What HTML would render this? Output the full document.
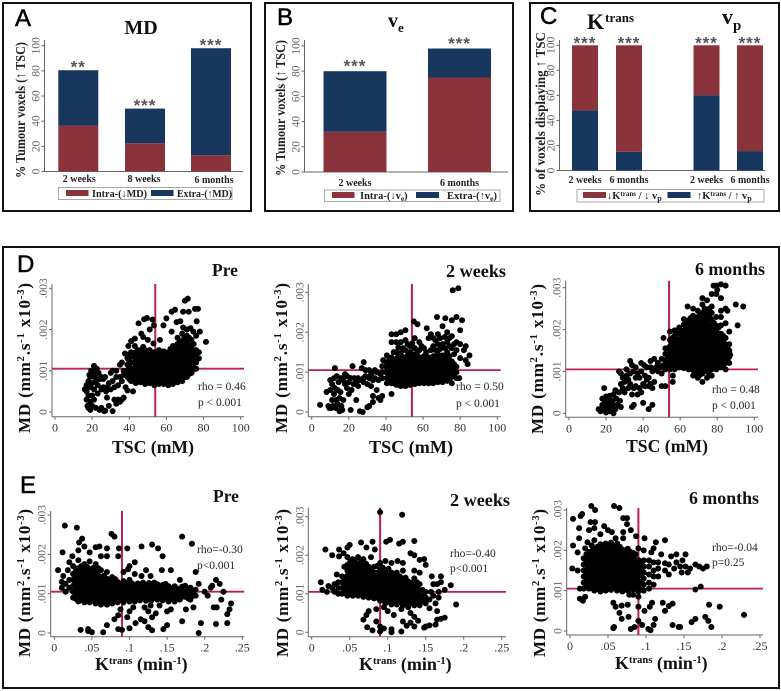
<!DOCTYPE html>
<html lang="en">
<head>
<meta charset="utf-8">
<title>Tumour voxel bar charts and MD scatter plots</title>
<style>
html,body{margin:0;padding:0;background:#fff;width:781px;height:691px;overflow:hidden}
svg{display:block;filter:blur(.35px)}
text{font-family:"Liberation Serif",serif}
.b{font-weight:bold;fill:#111}
.letter{font-family:"Liberation Sans",sans-serif;font-size:24px;fill:#000;stroke:#000;stroke-width:.5}
.ann{font-size:11.5px;fill:#222}
.leg{font-size:10.5px;font-weight:bold;fill:#222}
.cat{font-size:10.5px;font-weight:bold;fill:#222}
.star{font-family:"Liberation Sans",sans-serif;font-size:17px;font-weight:bold;fill:#555}
.ptitle{font-size:17.5px;font-weight:bold;fill:#111}
.ytitle{font-size:17px;font-weight:bold;fill:#111}
.xtitle{font-size:18px;font-weight:bold;fill:#111}
.bary{font-size:14px;font-weight:bold;fill:#222}
</style>
</head>
<body>
<svg id="figure" xmlns="http://www.w3.org/2000/svg" width="781" height="691" viewBox="0 0 781 691">
<rect width="781" height="691" fill="#fff"/>
<rect x="3" y="3" width="248" height="208" fill="none" stroke="#111" stroke-width="2"/>
<rect x="265" y="3" width="248" height="208" fill="none" stroke="#111" stroke-width="2"/>
<rect x="530" y="3" width="249" height="208" fill="none" stroke="#111" stroke-width="2"/>
<rect x="3" y="247" width="776" height="441" fill="none" stroke="#111" stroke-width="2"/>

<text class="letter" x="15" y="26">A</text>
<text class="letter" x="277" y="25">B</text>
<text class="letter" x="540" y="24">C</text>
<text class="letter" x="17" y="272">D</text>
<text class="letter" x="20" y="493">E</text>

<text class="b" x="141" y="34" text-anchor="middle" font-size="20">MD</text>
<text class="b" x="388" y="27" font-size="20">v<tspan font-size="13" dy="5">e</tspan></text>
<text class="b" x="587" y="29" font-size="22">K<tspan font-size="13" dy="-7" dx="1">trans</tspan></text>
<text class="b" x="722" y="24" font-size="22">v<tspan font-size="15" dy="6">p</tspan></text>

<text class="bary" transform="translate(25,178) rotate(-90)" textLength="136" lengthAdjust="spacingAndGlyphs">% Tumour voxels (↑ TSC)</text>
<text class="bary" transform="translate(285,176) rotate(-90)" textLength="136" lengthAdjust="spacingAndGlyphs">% Tumour voxels (↑ TSC)</text>
<text class="bary" transform="translate(545,196) rotate(-90)" textLength="164" lengthAdjust="spacingAndGlyphs">% of voxels displaying ↑ TSC</text>

<g>
<rect x="58.5" y="187.5" width="173.5" height="12" fill="#fff" stroke="#aaa"/>
<rect x="66" y="190" width="22.5" height="6" fill="#8a333a"/>
<text class="leg" x="92" y="197" textLength="55" lengthAdjust="spacingAndGlyphs">Intra-(↓MD)</text>
<rect x="151" y="190" width="22.5" height="6" fill="#17375e"/>
<text class="leg" x="177" y="197" textLength="55" lengthAdjust="spacingAndGlyphs">Extra-(↑MD)</text>
</g>
<g>
<rect x="324.5" y="190" width="175.5" height="11.5" fill="#fff" stroke="#aaa"/>
<rect x="332" y="192" width="22.5" height="6" fill="#8a333a"/>
<text class="leg" x="360" y="199">Intra-(↓v<tspan font-size="7.5" dy="2">e</tspan><tspan dy="-2">)</tspan></text>
<rect x="416" y="192" width="23" height="6" fill="#17375e"/>
<text class="leg" x="447" y="199">Extra-(↑v<tspan font-size="7.5" dy="2">e</tspan><tspan dy="-2">)</tspan></text>
</g>
<g>
<rect x="577" y="189.5" width="187" height="12.5" fill="#fff" stroke="#aaa"/>
<rect x="583" y="192" width="23" height="6" fill="#8a333a"/>
<text class="leg" x="607" y="199">↓K<tspan font-size="7" dy="-3">trans</tspan><tspan dy="3"> / ↓ v</tspan><tspan font-size="8" dy="2">p</tspan></text>
<rect x="667.5" y="192" width="23" height="6" fill="#17375e"/>
<text class="leg" x="697" y="199">↑K<tspan font-size="7" dy="-3">trans</tspan><tspan dy="3"> / ↑ v</tspan><tspan font-size="8" dy="2">p</tspan></text>
</g>

<text class="ptitle" x="212" y="276">Pre</text>
<text class="ptitle" x="446" y="277" textLength="60" lengthAdjust="spacingAndGlyphs">2 weeks</text>
<text class="ptitle" x="695" y="275" textLength="70" lengthAdjust="spacingAndGlyphs">6 months</text>
<text class="ptitle" x="213" y="502">Pre</text>
<text class="ptitle" x="450" y="506" textLength="60" lengthAdjust="spacingAndGlyphs">2 weeks</text>
<text class="ptitle" x="689" y="504" textLength="70" lengthAdjust="spacingAndGlyphs">6 months</text>

<text class="ytitle" transform="translate(30,433) rotate(-90)" textLength="150">MD (mm<tspan font-size="10.5" dy="-6">2</tspan><tspan dy="6">.s</tspan><tspan font-size="10.5" dy="-6">-1</tspan><tspan dy="6"> x10</tspan><tspan font-size="10.5" dy="-6">-3</tspan><tspan dy="6">)</tspan></text>
<text class="ytitle" transform="translate(287,433) rotate(-90)" textLength="150">MD (mm<tspan font-size="10.5" dy="-6">2</tspan><tspan dy="6">.s</tspan><tspan font-size="10.5" dy="-6">-1</tspan><tspan dy="6"> x10</tspan><tspan font-size="10.5" dy="-6">-3</tspan><tspan dy="6">)</tspan></text>
<text class="ytitle" transform="translate(543,434) rotate(-90)" textLength="150">MD (mm<tspan font-size="10.5" dy="-6">2</tspan><tspan dy="6">.s</tspan><tspan font-size="10.5" dy="-6">-1</tspan><tspan dy="6"> x10</tspan><tspan font-size="10.5" dy="-6">-3</tspan><tspan dy="6">)</tspan></text>
<text class="ytitle" transform="translate(30,657) rotate(-90)" textLength="148">MD (mm<tspan font-size="10.5" dy="-6">2</tspan><tspan dy="6">.s</tspan><tspan font-size="10.5" dy="-6">-1</tspan><tspan dy="6"> x10</tspan><tspan font-size="10.5" dy="-6">-3</tspan><tspan dy="6">)</tspan></text>
<text class="ytitle" transform="translate(288,657) rotate(-90)" textLength="148">MD (mm<tspan font-size="10.5" dy="-6">2</tspan><tspan dy="6">.s</tspan><tspan font-size="10.5" dy="-6">-1</tspan><tspan dy="6"> x10</tspan><tspan font-size="10.5" dy="-6">-3</tspan><tspan dy="6">)</tspan></text>
<text class="ytitle" transform="translate(545,657) rotate(-90)" textLength="148">MD (mm<tspan font-size="10.5" dy="-6">2</tspan><tspan dy="6">.s</tspan><tspan font-size="10.5" dy="-6">-1</tspan><tspan dy="6"> x10</tspan><tspan font-size="10.5" dy="-6">-3</tspan><tspan dy="6">)</tspan></text>

<text class="xtitle" x="112" y="453" textLength="82" lengthAdjust="spacingAndGlyphs">TSC (mM)</text>
<text class="xtitle" x="369" y="453" textLength="84" lengthAdjust="spacingAndGlyphs">TSC (mM)</text>
<text class="xtitle" x="626" y="452" textLength="82" lengthAdjust="spacingAndGlyphs">TSC (mM)</text>
<text class="xtitle" x="95" y="670">K<tspan font-size="10.5" dy="-6">trans</tspan><tspan dy="6"> (min</tspan><tspan font-size="10.5" dy="-6">-1</tspan><tspan dy="6">)</tspan></text>
<text class="xtitle" x="359" y="670">K<tspan font-size="10.5" dy="-6">trans</tspan><tspan dy="6"> (min</tspan><tspan font-size="10.5" dy="-6">-1</tspan><tspan dy="6">)</tspan></text>
<text class="xtitle" x="615" y="669">K<tspan font-size="10.5" dy="-6">trans</tspan><tspan dy="6"> (min</tspan><tspan font-size="10.5" dy="-6">-1</tspan><tspan dy="6">)</tspan></text>

<g id="scatterLayer"></g>
<g id="barLayer"></g>

<g>
<text class="ann" x="198" y="390">rho = 0.46</text>
<text class="ann" x="198" y="406">p &lt; 0.001</text>
<text class="ann" x="456" y="390">rho = 0.50</text>
<text class="ann" x="456" y="407">p &lt; 0.001</text>
<text class="ann" x="712" y="393">rho = 0.48</text>
<text class="ann" x="712" y="409">p &lt; 0.001</text>
<text class="ann" x="197" y="553">rho=-0.30</text>
<text class="ann" x="197" y="569">p&lt;0.001</text>
<text class="ann" x="450" y="557">rho=-0.40</text>
<text class="ann" x="450" y="572">p&lt;0.001</text>
<text class="ann" x="712" y="551">rho=-0.04</text>
<text class="ann" x="712" y="566">p=0.25</text>
</g>
</svg>

<script>
// ---- bar chart data ----
const barTicks = [0, 20, 40, 60, 80, 100];
const aCategories = ['2 weeks', '8 weeks', '6 months'];
const aIntra = [36.5, 22.5, 13];
const aExtra = [44, 27.5, 85];
const aStars = ['**', '***', '***'];
const bCategories = ['2 weeks', '6 months'];
const bIntra = [32, 75];
const bExtra = [48, 23];
const bStars = ['***', '***'];
const cCategories = ['2 weeks', '6 months', '2 weeks', '6 months'];
const cIncrease = [48, 15, 60, 15.5];
const cDecrease = [52, 85, 40, 84.5];
const cStars = ['***', '***', '***', '***'];

// ---- scatter axis data ----
const tscTicks = [0, 20, 40, 60, 80, 100];
const ktransTicks = [0, .05, .1, .15, .2, .25];
const ktransTickLabels = ['0', '.05', '.1', '.15', '.2', '.25'];
const mdTicks = [0, 1, 2, 3];
const mdTickLabels = ['0', '.001', '.002', '.003'];
const tscThreshold = 54;
const mdThreshold = 1.05;
const ktransThreshold = .09;

// ---- scatter points: [x, MD in units of 10^-3] ----
const dPrePoints = [[16,.55],[17,.3],[17,.5],[17,.65],[17.5,.15],[18,.1],[18,.4],[18,.75],[18.5,.9],[19,.05],[19,.25],[19,.6],[19,.85],[19.5,1],[20,.15],[20,.4],[20,.7],[20.5,.95],[21,1.12],[21,.55],[21,.3],[21.5,.85],[22,.1],[22,.75],[22.5,1.05],[23,.45],[23,.65],[23.5,.95],[24,.05],[24,.8],[25,.85],[25,.55],[25,.1],[26,.6],[26,.8],[26.5,.02],[27,.03],[27,.85],[27.5,.5],[28,.35],[28,.6],[29,.15],[29,.7],[30,.55],[30,.95],[31,.02],[31,.75],[31,1],[32,.3],[32,.6],[33,.85],[33,.2],[33,1],[34,.3],[34,.65],[35,.25],[35,.85],[35,1.15],[36,.3],[36,.75],[36,1.2],[37,.35],[37,1],[37,.9],[39,.85],[39,1],[39,1.15],[39,1.3],[41,.75],[41,.9],[41,1.05],[41,1.2],[41,1.35],[41,1.45],[43.5,.7],[43.5,.85],[43.5,1],[43.5,1.15],[43.5,1.3],[43.5,1.45],[46,.72],[46,.85],[46,.98],[46,1.1],[46,1.25],[46,1.38],[46,1.5],[48.5,.68],[48.5,.82],[48.5,.95],[48.5,1.08],[48.5,1.22],[48.5,1.35],[48.5,1.5],[51,.7],[51,.83],[51,.96],[51,1.1],[51,1.23],[51,1.37],[51,1.5],[53.5,.65],[53.5,.8],[53.5,.93],[53.5,1.05],[53.5,1.2],[53.5,1.33],[53.5,1.45],[56,.68],[56,.82],[56,.95],[56,1.08],[56,1.22],[56,1.35],[56,1.5],[58.5,.68],[58.5,.8],[58.5,.94],[58.5,1.07],[58.5,1.2],[58.5,1.33],[58.5,1.47],[61,.65],[61,.78],[61,.92],[61,1.05],[61,1.18],[61,1.32],[61,1.45],[63.5,.68],[63.5,.82],[63.5,.95],[63.5,1.08],[63.5,1.22],[63.5,1.35],[63.5,1.5],[63.5,1.6],[66,.72],[66,.85],[66,.98],[66,1.12],[66,1.25],[66,1.38],[66,1.5],[66,1.65],[66,1.8],[68.5,.75],[68.5,.9],[68.5,1.03],[68.5,1.17],[68.5,1.3],[68.5,1.45],[68.5,1.58],[68.5,1.72],[68.5,1.9],[71,.85],[71,1],[71,1.15],[71,1.28],[71,1.42],[71,1.55],[71,1.7],[71,1.85],[71,2],[73.5,.95],[73.5,1.1],[73.5,1.25],[73.5,1.4],[73.5,1.55],[73.5,1.75],[76,1.05],[76,1.2],[76,1.35],[76,1.5],[76,1.85],[77.5,1.3],[77.5,1.45],[48,2.25],[49.5,2.28],[45,2.15],[52.5,2.24],[53.3,2.1],[51,2],[47.5,1.82],[43,1.78],[41,1.72],[39.5,1.6],[37.7,1.42],[58.4,2.1],[60,2.27],[62.8,2.43],[64.6,2.48],[69,2.43],[72,2.43],[70,2.7],[71.5,2.75],[75.4,2.5],[77,2.5],[81.3,1.7],[78,1.95],[76.3,2.2],[65.5,2.18],[62.8,1.95],[56.5,1.75],[53,1.66],[47.5,1.58],[43,1.6],[69,2.05],[73,2.03],[67.5,2.2],[74.5,1.95],[50,1.75],[46.5,1.9],[39,.52],[42,.5],[38,.6],
[40,.8],[40,.95],[40,1.1],[40,1.25],[40,1.4],[42.2,.8],[42.2,.92],[42.2,1.05],[42.2,1.2],[42.2,1.35],[44.7,.78],[44.7,.92],[44.7,1.05],[44.7,1.2],[44.7,1.35],[44.7,1.5],[47.2,.78],[47.2,.9],[47.2,1.03],[47.2,1.16],[47.2,1.3],[47.2,1.44],[49.7,.76],[49.7,.89],[49.7,1.02],[49.7,1.16],[49.7,1.3],[49.7,1.44],[52.2,.75],[52.2,.88],[52.2,1.02],[52.2,1.15],[52.2,1.28],[52.2,1.42],[54.7,.75],[54.7,.88],[54.7,1.02],[54.7,1.15],[54.7,1.28],[54.7,1.42],[57.2,.75],[57.2,.88],[57.2,1.02],[57.2,1.15],[57.2,1.28],[57.2,1.42],[59.7,.74],[59.7,.87],[59.7,1],[59.7,1.13],[59.7,1.27],[59.7,1.4],[62.2,.74],[62.2,.87],[62.2,1],[62.2,1.13],[62.2,1.27],[62.2,1.4],[62.2,1.53],[64.7,.76],[64.7,.89],[64.7,1.02],[64.7,1.15],[64.7,1.28],[64.7,1.42],[64.7,1.56],[67.2,.8],[67.2,.92],[67.2,1.05],[67.2,1.18],[67.2,1.32],[67.2,1.45],[67.2,1.58],[67.2,1.72],[69.7,.84],[69.7,.96],[69.7,1.1],[69.7,1.23],[69.7,1.36],[69.7,1.5],[69.7,1.64],[69.7,1.8],[72.2,.92],[72.2,1.05],[72.2,1.2],[72.2,1.34],[72.2,1.48],[72.2,1.62],[72.2,1.8],[74.7,1.03],[74.7,1.17],[74.7,1.32],[74.7,1.47],[74.7,1.65]];
const d2wPoints = [[4.5,.18],[8,.5],[9,.15],[9.5,.1],[10,.55],[10,.8],[10.5,.1],[11,.3],[11,.7],[11.5,.15],[12,.85],[12,.45],[12.5,1.1],[12.5,.6],[13,.3],[13,.1],[13.5,.9],[14,.55],[14,.2],[14.5,.75],[15,.02],[15,.35],[15.5,.5],[16,.15],[16,.85],[16.5,.05],[17,.8],[17,.3],[18,.95],[18,.7],[19,.9],[19,.6],[20,.75],[20,.45],[21,.85],[21,.05],[21.5,.55],[22,1.15],[22.5,.7],[23,.85],[24,.3],[24,.75],[25,.85],[25,.65],[26,.02],[26,.8],[27,1.1],[27.5,0],[28,.75],[28,.85],[28,1.25],[29,.9],[29,1.05],[30,.7],[30,.12],[31,.85],[31,1.05],[31,.15],[32,.65],[32,.95],[33,.8],[33,.4],[33,.25],[34,1.05],[34,.85],[35,.55],[35,1],[36,.35],[36,.8],[37,.3],[37,.95],[38,.4],[38,.85],[38,1],[38,1.15],[38.5,1.3],[40.5,.72],[40.5,.85],[40.5,.98],[40.5,1.11],[40.5,1.24],[40.5,1.42],[43,.72],[43,.85],[43,.98],[43,1.11],[43,1.24],[43,1.37],[43,.45],[43,1.95],[43,1.75],[45.5,.68],[45.5,.81],[45.5,.94],[45.5,1.07],[45.5,1.2],[45.5,1.33],[45.5,1.5],[45.5,1.75],[45.5,1.95],[48,.65],[48,.78],[48,.91],[48,1.04],[48,1.17],[48,1.3],[48,1.48],[48,1.75],[48,2],[50.5,.65],[50.5,.78],[50.5,.91],[50.5,1.04],[50.5,1.17],[50.5,1.3],[50.5,1.55],[50.5,1.8],[50.5,2.05],[53,.68],[53,.8],[53,.93],[53,1.06],[53,1.19],[53,1.32],[53,1.5],[53,1.65],[55.5,.7],[55.5,.83],[55.5,.96],[55.5,1.09],[55.5,1.22],[55.5,1.35],[55.5,1.6],[55.5,1.85],[55,2.27],[57,2.2],[58,.72],[58,.85],[58,.98],[58,1.11],[58,1.24],[58,1.37],[58,1.55],[58,1.75],[60.5,.72],[60.5,.85],[60.5,.98],[60.5,1.11],[60.5,1.24],[60.5,1.4],[60.5,1.6],[62,2.1],[63,.72],[63,.85],[63,.98],[63,1.11],[63,1.24],[63,1.37],[63,1.85],[65.5,.72],[65.5,.85],[65.5,.98],[65.5,1.11],[65.5,1.24],[65.5,1.4],[65.5,1.85],[65.5,1.65],[68,.75],[68,.88],[68,1.01],[68,1.14],[68,1.27],[68,1.45],[68,1.7],[68,1.95],[67.5,2.38],[70.5,.75],[70.5,.88],[70.5,1.01],[70.5,1.14],[70.5,1.27],[70.5,1.42],[70.5,1.7],[70.5,2.15],[72,2.35],[73,.78],[73,.91],[73,1.04],[73,1.17],[73,1.3],[73,1.5],[73,1.75],[73,2],[75.5,.72],[75.5,.88],[75.5,1.01],[75.5,1.14],[75.5,1.27],[75.5,1.6],[75.5,1.9],[75.5,2.3],[78,.85],[78,1],[78,1.13],[78,1.55],[78,1.75],[78,2.38],[79.5,.85],[80,1.35],[80,1.7],[80,2.05],[81,2.3],[82,1.55],[83,1.3],[84,1.2],[85,1.42],[83,1.65],[76,3.05],[79,3.1],
[41.7,.78],[41.7,.91],[41.7,1.04],[41.7,1.17],[41.7,1.3],[44.2,.78],[44.2,.91],[44.2,1.04],[44.2,1.17],[44.2,1.3],[44.2,1.5],[46.7,.74],[46.7,.87],[46.7,1],[46.7,1.13],[46.7,1.26],[46.7,1.42],[46.7,1.62],[49.2,.72],[49.2,.85],[49.2,.98],[49.2,1.11],[49.2,1.24],[49.2,1.38],[49.2,1.6],[51.7,.72],[51.7,.85],[51.7,.98],[51.7,1.11],[51.7,1.24],[51.7,1.42],[51.7,1.7],[54.2,.74],[54.2,.87],[54.2,1],[54.2,1.13],[54.2,1.26],[54.2,1.45],[54.2,1.72],[56.7,.77],[56.7,.9],[56.7,1.03],[56.7,1.16],[56.7,1.29],[56.7,1.48],[59.2,.78],[59.2,.91],[59.2,1.04],[59.2,1.17],[59.2,1.3],[59.2,1.65],[61.7,.78],[61.7,.91],[61.7,1.04],[61.7,1.17],[61.7,1.3],[61.7,1.5],[64.2,.78],[64.2,.91],[64.2,1.04],[64.2,1.17],[64.2,1.3],[64.2,1.55],[64.2,1.95],[66.7,.8],[66.7,.93],[66.7,1.06],[66.7,1.19],[66.7,1.32],[66.7,1.55],[66.7,1.8],[69.2,.81],[69.2,.94],[69.2,1.07],[69.2,1.2],[69.2,1.35],[69.2,1.58],[69.2,1.85],[71.7,.83],[71.7,.96],[71.7,1.09],[71.7,1.22],[71.7,1.38],[71.7,1.6],[71.7,1.88],[74.2,.82],[74.2,.95],[74.2,1.08],[74.2,1.21],[74.2,1.4],[74.2,1.65],[74.2,1.85],[76.7,.95],[76.7,1.07],[76.7,1.2],[76.7,1.45],[76.7,1.7]];
const d6mPoints = [[16,.1],[17,.05],[18,.2],[18,.35],[19,.6],[19,.1],[19.5,.28],[20,.02],[20,.4],[20.5,.2],[21,.12],[21.5,.3],[22,.05],[22,.42],[22.5,.2],[23,.12],[23.5,.3],[24,0],[24,.45],[24.5,.18],[25,.55],[25,.1],[25.5,.35],[26,.2],[27,.5],[27,1],[27.5,.3],[28,.7],[28,.95],[28,.15],[29,.6],[29,.85],[30,.75],[30,.5],[31,1.05],[31,.9],[32,.6],[32,.8],[33,.95],[33,.7],[33,1.25],[34,1.15],[34,.15],[34,.45],[35,.6],[35,1],[35,.2],[36,.85],[36,1.1],[36,.65],[37,.95],[37,.45],[38,.85],[38,.6],[39,1.2],[39,.5],[39,1],[40,.25],[40,.7],[40.5,1.15],[41,.9],[41,.65],[42,1.1],[42,.8],[43,.1],[43,.65],[43,.85],[44,1.25],[44,1.1],[44,.7],[45,.2],[45,1],[45,.6],[46,1.3],[46,.75],[47,1.1],[48,1],[48,1.2],[49,1.1],[50,1.3],[50,.95],[50,.65],[51,1.15],[52,.65],[52,1.05],[51,1.8],[53,1.3],[56,.75],[56,.9],[52,1.12],[52,1.27],[52,1.42],[52,1.55],[54.5,1.05],[54.5,1.2],[54.5,1.33],[54.5,1.47],[54.5,1.6],[54.5,1.75],[54.5,1.95],[57,1.05],[57,1.18],[57,1.3],[57,1.43],[57,1.56],[57,1.7],[57,1.85],[57,1.98],[59.5,1.1],[59.5,1.23],[59.5,1.36],[59.5,1.49],[59.5,1.62],[59.5,1.75],[59.5,1.9],[59.5,2.05],[62,1.08],[62,1.2],[62,1.33],[62,1.46],[62,1.59],[62,1.72],[62,1.85],[62,1.98],[62,2.12],[62,2.25],[64.5,1.05],[64.5,1.18],[64.5,1.31],[64.5,1.44],[64.5,1.57],[64.5,1.7],[64.5,1.83],[64.5,1.96],[64.5,2.09],[64.5,2.22],[64,2.55],[67,.9],[67,1.03],[67,1.16],[67,1.29],[67,1.42],[67,1.55],[67,1.68],[67,1.81],[67,1.94],[67,2.07],[67,2.2],[67,2.33],[67,2.5],[69.5,.85],[69.5,1],[69.5,1.13],[69.5,1.26],[69.5,1.39],[69.5,1.52],[69.5,1.65],[69.5,1.78],[69.5,1.91],[69.5,2.04],[69.5,2.17],[69.5,2.3],[69.5,2.45],[72,.75],[72,.95],[72,1.08],[72,1.21],[72,1.34],[72,1.47],[72,1.6],[72,1.73],[72,1.86],[72,1.99],[72,2.12],[72,2.25],[72,2.4],[72,2.6],[72,2.75],[74.5,.85],[74.5,1],[74.5,1.13],[74.5,1.26],[74.5,1.39],[74.5,1.52],[74.5,1.65],[74.5,1.78],[74.5,1.91],[74.5,2.04],[74.5,2.17],[74.5,2.3],[74.5,2.45],[74.5,2.7],[77,.9],[77,1.05],[77,1.18],[77,1.31],[77,1.44],[77,1.57],[77,1.7],[77,1.83],[77,1.96],[77,2.09],[77,2.25],[77,2.4],[77,2.55],[77,2.85],[79.5,1.05],[79.5,1.18],[79.5,1.31],[79.5,1.44],[79.5,1.57],[79.5,1.7],[79.5,1.83],[79.5,1.96],[79.5,2.09],[79.5,2.3],[79.5,2.85],[79.5,3.05],[82,1.1],[82,1.25],[82,1.38],[82,1.51],[82,1.64],[82,1.77],[82,1.9],[82,2.1],[82,2.3],[82,2.45],[82,2.75],[84.5,1.05],[84.5,1.2],[84.5,1.35],[84.5,1.5],[84.5,1.65],[84.5,1.8],[84.5,2.15],[84.5,2.5],[84.5,3.05],[86.5,1.2],[86.5,1.35],[86.5,1.5],[86.5,1.65],[86.5,1.95],[90,2.6],[94,2.55],[91,2.1],[82,3.08],[78,3.05],[80,2.95],[87,1.4],[85.5,2.45],
[53.2,1.15],[53.2,1.4],[53.2,1.55],[55.7,1.12],[55.7,1.25],[55.7,1.38],[55.7,1.51],[55.7,1.64],[55.7,1.8],[58.2,1.12],[58.2,1.25],[58.2,1.38],[58.2,1.51],[58.2,1.64],[58.2,1.77],[58.2,1.92],[60.7,1.15],[60.7,1.28],[60.7,1.41],[60.7,1.54],[60.7,1.67],[60.7,1.8],[60.7,1.95],[63.2,1.14],[63.2,1.27],[63.2,1.4],[63.2,1.53],[63.2,1.66],[63.2,1.79],[63.2,1.92],[63.2,2.05],[63.2,2.18],[65.7,1.1],[65.7,1.23],[65.7,1.36],[65.7,1.49],[65.7,1.62],[65.7,1.75],[65.7,1.88],[65.7,2.02],[65.7,2.15],[65.7,2.28],[68.2,.97],[68.2,1.1],[68.2,1.23],[68.2,1.36],[68.2,1.49],[68.2,1.62],[68.2,1.75],[68.2,1.88],[68.2,2.01],[68.2,2.14],[68.2,2.27],[70.7,.92],[70.7,1.07],[70.7,1.2],[70.7,1.33],[70.7,1.46],[70.7,1.59],[70.7,1.72],[70.7,1.85],[70.7,1.98],[70.7,2.11],[70.7,2.24],[70.7,2.37],[73.2,1.02],[73.2,1.15],[73.2,1.28],[73.2,1.41],[73.2,1.54],[73.2,1.67],[73.2,1.8],[73.2,1.93],[73.2,2.06],[73.2,2.19],[73.2,2.32],[73.2,2.5],[75.7,.93],[75.7,1.06],[75.7,1.19],[75.7,1.32],[75.7,1.45],[75.7,1.58],[75.7,1.71],[75.7,1.84],[75.7,1.97],[75.7,2.1],[75.7,2.23],[75.7,2.36],[75.7,2.5],[78.2,1.12],[78.2,1.25],[78.2,1.38],[78.2,1.51],[78.2,1.64],[78.2,1.77],[78.2,1.9],[78.2,2.03],[78.2,2.16],[80.7,1.12],[80.7,1.25],[80.7,1.38],[80.7,1.51],[80.7,1.64],[80.7,1.77],[80.7,1.9],[80.7,2.05],[83.2,1.15],[83.2,1.3],[83.2,1.45],[83.2,1.58],[83.2,1.72],[83.2,1.85],[85.5,1.28],[85.5,1.43],[85.5,1.58]];
const ePrePoints = [[.005,1.6],[.01,1.3],[.01,1.15],[.012,1.45],[.015,1.25],[.015,1.05],[.018,1.6],[.02,1.35],[.02,1.15],[.011,2.05],[.014,2.73],[.03,2.68],[.02,1.8],[.024,1.95],[.025,.9],[.025,1.05],[.025,1.2],[.025,1.35],[.025,1.5],[.025,1.7],[.032,.8],[.032,.95],[.032,1.08],[.032,1.22],[.032,1.36],[.032,1.5],[.032,1.65],[.032,1.85],[.032,2.1],[.033,2.3],[.04,.78],[.04,.92],[.04,1.05],[.04,1.18],[.04,1.32],[.04,1.46],[.04,1.6],[.04,1.75],[.037,2.4],[.04,2.2],[.047,.78],[.047,.9],[.047,1.03],[.047,1.16],[.047,1.3],[.047,1.43],[.047,1.6],[.047,1.82],[.047,2.05],[.055,.75],[.055,.88],[.055,1.01],[.055,1.14],[.055,1.27],[.055,1.4],[.055,1.55],[.055,1.75],[.055,2.18],[.062,.72],[.062,.86],[.062,.99],[.062,1.12],[.062,1.25],[.062,1.4],[.062,1.6],[.062,1.95],[.06,2.2],[.07,.72],[.07,.85],[.07,.98],[.07,1.11],[.07,1.24],[.07,1.38],[.07,1.55],[.07,2.15],[.07,1.95],[.077,.75],[.077,.88],[.077,1.01],[.077,1.14],[.077,1.27],[.077,1.42],[.076,2.52],[.08,2.45],[.084,.78],[.084,.91],[.084,1.04],[.084,1.17],[.084,1.3],[.085,1.95],[.086,2.15],[.092,.78],[.092,.91],[.092,1.04],[.092,1.17],[.092,1.32],[.092,1.55],[.098,1.62],[.1,.8],[.1,.93],[.1,1.06],[.1,1.19],[.1,1.35],[.1,1.7],[.097,2.15],[.107,.8],[.107,.93],[.107,1.06],[.107,1.19],[.107,1.8],[.107,1.5],[.114,.83],[.114,.96],[.114,1.09],[.114,1.22],[.116,1.45],[.116,2.2],[.122,.82],[.122,.95],[.122,1.08],[.122,1.2],[.122,1.6],[.129,.83],[.129,.96],[.129,1.09],[.129,1.22],[.13,2.25],[.128,1.45],[.137,.85],[.137,.98],[.137,1.11],[.137,1.24],[.138,2.15],[.144,.83],[.144,.96],[.144,1.09],[.144,1.22],[.143,1.6],[.144,1.95],[.152,.8],[.152,.93],[.152,1.06],[.152,1.19],[.155,1.6],[.16,.8],[.16,.93],[.16,1.06],[.16,1.19],[.167,.85],[.167,.98],[.167,1.12],[.167,1.35],[.17,2.45],[.174,.92],[.174,1.05],[.174,1.2],[.181,.85],[.181,1],[.181,1.15],[.183,2.27],[.188,.95],[.188,1.1],[.188,1.55],[.192,1.25],[.2,1.05],[.204,.95],[.208,1.15],[.21,1.2],[.215,1.35],[.22,1.25],[.225,1.05],[.222,.85],[.235,.75],[.233,.6],[.23,.48],[.212,.65],[.216,.65],[.195,.25],[.192,0],[.23,.25],[.215,.23],[.17,.3],[.185,.65],[.175,.6],[.155,.6],[.15,.55],[.14,.7],[.135,.5],[.13,.4],[.125,.55],[.12,.3],[.115,.35],[.125,.15],[.13,.07],[.145,.1],[.15,.2],[.1,.12],[.108,.25],[.09,.08],[.085,.1],[.08,.35],[.085,.45],[.07,.2],[.065,.02],[.05,.02],[.045,.1],[.035,.08],[.045,.05],[.1,.55],[.105,.65],[.12,.65],[.128,.7],[.088,.6],[.097,.4],
[.0285,.87],[.0285,1],[.0285,1.13],[.0285,1.28],[.0285,1.42],[.0285,1.58],[.036,.85],[.036,.98],[.036,1.12],[.036,1.25],[.036,1.4],[.036,1.55],[.036,1.7],[.0435,.84],[.0435,.97],[.0435,1.1],[.0435,1.24],[.0435,1.38],[.0435,1.52],[.0435,1.68],[.051,.82],[.051,.96],[.051,1.09],[.051,1.22],[.051,1.35],[.051,1.5],[.051,1.65],[.0585,.8],[.0585,.94],[.0585,1.07],[.0585,1.2],[.0585,1.33],[.0585,1.47],[.0585,1.65],[.066,.78],[.066,.92],[.066,1.05],[.066,1.18],[.066,1.32],[.066,1.46],[.0735,.78],[.0735,.92],[.0735,1.05],[.0735,1.18],[.0735,1.32],[.081,.84],[.081,.97],[.081,1.1],[.081,1.23],[.081,1.37],[.088,.85],[.088,.98],[.088,1.11],[.088,1.24],[.096,.85],[.096,.98],[.096,1.11],[.096,1.25],[.1035,.87],[.1035,1],[.1035,1.13],[.1035,1.26],[.111,.87],[.111,1],[.111,1.13],[.111,1.26],[.118,.9],[.118,1.02],[.118,1.15],[.118,1.28],[.126,.9],[.126,1.02],[.126,1.15],[.126,1.27],[.133,.9],[.133,1.04],[.133,1.17],[.133,1.28],[.14,.9],[.14,1.03],[.14,1.16],[.148,.87],[.148,1],[.148,1.13],[.148,1.25],[.156,.87],[.156,1],[.156,1.13],[.163,.88],[.163,1],[.163,1.13],[.17,.92],[.17,1.05],[.17,1.18],[.178,.88],[.178,1],[.178,1.12],[.185,.95],[.185,1.08]];
const e2wPoints = [[.012,1.3],[.014,1.1],[.018,2.15],[.02,1.05],[.022,1.2],[.027,1.15],[.027,2],[.03,1.05],[.03,1.25],[.033,1.5],[.035,1],[.035,1.15],[.035,1.3],[.036,1.97],[.036,2.15],[.04,1],[.04,1.15],[.04,1.3],[.04,1.45],[.042,2.05],[.043,1.7],[.047,.95],[.047,1.08],[.047,1.21],[.047,1.34],[.047,1.47],[.047,1.6],[.047,1.75],[.047,1.95],[.047,2.2],[.05,2.27],[.054,.95],[.054,1.08],[.054,1.21],[.054,1.34],[.054,1.47],[.054,1.6],[.054,1.75],[.054,1.9],[.061,.95],[.061,1.08],[.061,1.21],[.061,1.34],[.061,1.47],[.061,1.6],[.061,1.75],[.061,1.95],[.065,2.33],[.068,.92],[.068,1.05],[.068,1.18],[.068,1.31],[.068,1.44],[.068,1.57],[.068,1.7],[.068,1.9],[.072,2.2],[.075,.9],[.075,1.03],[.075,1.16],[.075,1.29],[.075,1.42],[.075,1.55],[.075,1.7],[.078,1.95],[.08,2.35],[.082,.88],[.082,1.01],[.082,1.14],[.082,1.27],[.082,1.4],[.082,1.55],[.082,1.7],[.083,2.15],[.09,.82],[.09,.95],[.09,1.08],[.09,1.21],[.09,1.34],[.09,1.47],[.09,1.6],[.09,1.8],[.09,3.12],[.097,.75],[.097,.88],[.097,1.01],[.097,1.14],[.097,1.27],[.097,1.4],[.097,1.55],[.097,1.85],[.098,2.35],[.103,2.4],[.105,.72],[.105,.85],[.105,.98],[.105,1.11],[.105,1.24],[.105,1.37],[.105,1.55],[.105,1.8],[.112,.72],[.112,.85],[.112,.98],[.112,1.11],[.112,1.24],[.112,1.37],[.112,1.55],[.113,1.85],[.115,2.3],[.12,.7],[.12,.83],[.12,.96],[.12,1.09],[.12,1.22],[.12,1.35],[.12,1.6],[.12,1.8],[.119,3.05],[.12,2.35],[.127,.65],[.127,.8],[.127,.93],[.127,1.06],[.127,1.19],[.127,1.32],[.135,.7],[.135,.83],[.135,.96],[.135,1.09],[.135,1.22],[.135,1.4],[.135,1.6],[.135,2],[.135,2.37],[.13,2.05],[.142,.7],[.142,.83],[.142,.96],[.142,1.09],[.142,1.25],[.142,1.55],[.142,1.88],[.15,.75],[.15,.9],[.15,1.05],[.15,1.75],[.148,1.9],[.155,.62],[.155,.85],[.157,1.05],[.16,.95],[.16,1.25],[.158,1.45],[.163,.75],[.165,.55],[.167,.9],[.167,1.05],[.17,1.3],[.17,1.45],[.165,1.25],[.175,1.1],[.183,1.22],[.19,.72],[.175,.38],[.165,.33],[.17,.35],[.163,.2],[.155,.18],[.15,.15],[.148,.12],[.135,.15],[.14,.3],[.135,.4],[.13,.25],[.125,.17],[.12,.28],[.118,.02],[.108,.45],[.105,.08],[.105,0],[.095,.1],[.09,.15],[.09,.02],[.08,.05],[.085,.28],[.073,.13],[.068,.33],[.072,.45],[.075,.55],[.095,.65],[.085,.6],[.1,.55],[.118,.6],[.13,.5],
[.0435,1.02],[.0435,1.15],[.0435,1.28],[.0435,1.42],[.0505,1.02],[.0505,1.15],[.0505,1.28],[.0505,1.41],[.0505,1.54],[.0505,1.67],[.0505,1.82],[.0575,1.02],[.0575,1.15],[.0575,1.28],[.0575,1.41],[.0575,1.54],[.0575,1.67],[.0575,1.82],[.0645,1],[.0645,1.13],[.0645,1.26],[.0645,1.39],[.0645,1.52],[.0645,1.65],[.0645,1.82],[.0715,.98],[.0715,1.11],[.0715,1.24],[.0715,1.37],[.0715,1.5],[.0715,1.63],[.0715,1.78],[.0785,.96],[.0785,1.09],[.0785,1.22],[.0785,1.35],[.0785,1.48],[.0785,1.62],[.086,.9],[.086,1.03],[.086,1.16],[.086,1.29],[.086,1.42],[.086,1.55],[.086,1.72],[.0935,.85],[.0935,.98],[.0935,1.11],[.0935,1.24],[.0935,1.37],[.0935,1.5],[.0935,1.68],[.101,.8],[.101,.93],[.101,1.06],[.101,1.19],[.101,1.32],[.101,1.46],[.101,1.65],[.1085,.78],[.1085,.91],[.1085,1.04],[.1085,1.17],[.1085,1.3],[.1085,1.45],[.116,.78],[.116,.91],[.116,1.04],[.116,1.17],[.116,1.3],[.116,1.45],[.1235,.75],[.1235,.88],[.1235,1.01],[.1235,1.14],[.1235,1.27],[.1235,1.42],[.131,.76],[.131,.89],[.131,1.02],[.131,1.15],[.131,1.28],[.1385,.76],[.1385,.89],[.1385,1.02],[.1385,1.15],[.1385,1.3],[.146,.8],[.146,.95],[.146,1.1]];
const e6mPoints = [[.003,1.55],[.004,2.12],[.004,2.78],[.01,1.5],[.01,1.95],[.012,2.55],[.012,2.3],[.014,2.85],[.016,2.9],[.013,.8],[.017,.75],[.013,1.05],[.018,1.05],[.018,1.2],[.018,1.35],[.018,1.5],[.018,1.65],[.018,1.8],[.02,.85],[.02,2.05],[.023,2.2],[.025,1.05],[.025,1.18],[.025,1.31],[.025,1.44],[.025,1.57],[.025,1.7],[.025,1.83],[.025,1.96],[.025,2.5],[.027,2.7],[.028,3.1],[.032,1],[.032,1.13],[.032,1.26],[.032,1.39],[.032,1.52],[.032,1.65],[.032,1.78],[.032,1.91],[.032,2.04],[.032,2.25],[.032,2.55],[.033,2.7],[.033,3],[.04,.98],[.04,1.11],[.04,1.24],[.04,1.37],[.04,1.5],[.04,1.63],[.04,1.76],[.04,1.89],[.04,2.02],[.04,2.15],[.04,2.4],[.047,1],[.047,1.13],[.047,1.26],[.047,1.39],[.047,1.52],[.047,1.65],[.047,1.78],[.047,1.91],[.047,2.04],[.047,2.17],[.045,2.6],[.05,2.5],[.054,1.02],[.054,1.15],[.054,1.28],[.054,1.41],[.054,1.54],[.054,1.67],[.054,1.8],[.054,1.93],[.054,2.06],[.054,2.19],[.055,2.45],[.058,3.1],[.06,2.3],[.062,1],[.062,1.13],[.062,1.26],[.062,1.39],[.062,1.52],[.062,1.65],[.062,1.78],[.062,1.91],[.062,2.04],[.062,2.17],[.065,3.05],[.069,.98],[.069,1.11],[.069,1.24],[.069,1.37],[.069,1.5],[.069,1.63],[.069,1.76],[.069,1.89],[.069,2.02],[.07,2.3],[.07,2.45],[.07,2.8],[.075,2.8],[.075,2.65],[.076,1],[.076,1.13],[.076,1.26],[.076,1.39],[.076,1.52],[.076,1.65],[.076,1.78],[.076,1.91],[.076,2.04],[.08,2.5],[.083,.9],[.083,1.03],[.083,1.16],[.083,1.29],[.083,1.42],[.083,1.55],[.083,1.68],[.083,1.81],[.083,1.94],[.087,2.35],[.09,.85],[.09,.98],[.09,1.11],[.09,1.24],[.09,1.37],[.09,1.5],[.09,1.63],[.09,1.76],[.09,2.05],[.097,1],[.097,1.15],[.097,1.3],[.097,1.45],[.097,1.6],[.097,1.75],[.097,2],[.098,2.3],[.104,1.05],[.104,1.2],[.104,1.4],[.104,1.6],[.104,1.75],[.107,1.95],[.11,1.15],[.11,1.35],[.11,1.5],[.11,1.7],[.11,2.05],[.113,2.2],[.116,1.35],[.116,1.55],[.116,1.7],[.12,1.9],[.125,1.5],[.125,1.68],[.125,2.25],[.13,1.65],[.13,1.4],[.133,1.85],[.137,1.55],[.14,1.7],[.14,1.9],[.145,1.6],[.147,1.45],[.148,1.75],[.152,1.9],[.152,1.6],[.155,1.45],[.158,1.55],[.165,1.65],[.17,1.6],[.175,1.55],[.18,1.6],[.165,1.03],[.172,1.1],[.183,.65],[.197,.6],[.229,.4],[.178,.35],[.182,.25],[.186,.1],[.165,.3],[.16,.22],[.145,.1],[.143,.1],[.135,.15],[.112,.3],[.11,.15],[.106,.02],[.103,.05],[.095,.15],[.09,.25],[.085,.1],[.08,.05],[.058,.1],[.057,.07],[.068,.3],[.065,.45],[.06,.6],[.057,.7],[.068,.63],[.077,.35],[.076,.65],[.078,.9],[.09,.6],[.098,.5],[.105,.6],[.108,.7],[.122,.7],[.125,.5],[.13,.62],[.135,.68],
[.0215,1.12],[.0215,1.25],[.0215,1.38],[.0215,1.51],[.0215,1.64],[.0215,1.77],[.0215,1.9],[.0285,1.07],[.0285,1.2],[.0285,1.33],[.0285,1.46],[.0285,1.59],[.0285,1.72],[.0285,1.85],[.0285,1.98],[.0285,2.12],[.036,1.05],[.036,1.18],[.036,1.31],[.036,1.44],[.036,1.57],[.036,1.7],[.036,1.83],[.036,1.96],[.036,2.09],[.0435,1.05],[.0435,1.18],[.0435,1.31],[.0435,1.44],[.0435,1.57],[.0435,1.7],[.0435,1.83],[.0435,1.96],[.0435,2.09],[.0505,1.07],[.0505,1.2],[.0505,1.33],[.0505,1.46],[.0505,1.59],[.0505,1.72],[.0505,1.85],[.0505,1.98],[.0505,2.12],[.058,1.07],[.058,1.2],[.058,1.33],[.058,1.46],[.058,1.59],[.058,1.72],[.058,1.85],[.058,1.98],[.058,2.12],[.0655,1.05],[.0655,1.18],[.0655,1.31],[.0655,1.44],[.0655,1.57],[.0655,1.7],[.0655,1.83],[.0655,1.96],[.0655,2.09],[.0725,1.05],[.0725,1.18],[.0725,1.31],[.0725,1.44],[.0725,1.57],[.0725,1.7],[.0725,1.83],[.0725,1.96],[.0795,1.05],[.0795,1.18],[.0795,1.31],[.0795,1.44],[.0795,1.57],[.0795,1.7],[.0795,1.83],[.0795,1.96],[.0865,1.1],[.0865,1.23],[.0865,1.36],[.0865,1.49],[.0865,1.62],[.0865,1.75],[.0865,1.9],[.094,1.08],[.094,1.22],[.094,1.38],[.094,1.52],[.094,1.68]];

// ---- layout ----
const svgNS = 'http://www.w3.org/2000/svg';
const barLayer = document.getElementById('barLayer');
const scatterLayer = document.getElementById('scatterLayer');
const NAVY = '#17375e', RED = '#8a333a', LINE = '#bf1f4d';

function make(tag, attrs, parent, text) {
  const node = document.createElementNS(svgNS, tag);
  for (const k in attrs) node.setAttribute(k, attrs[k]);
  if (text !== undefined) node.textContent = text;
  parent.appendChild(node);
  return node;
}

function drawAxisFrame(g, f) {
  let el = make('line', {x1: f.axisX, y1: f.top, x2: f.axisX, y2: f.axisY, stroke: '#666', 'stroke-width': 1}, g);
  
  
  el = make('line', {x1: f.axisX, y1: f.axisY, x2: f.right, y2: f.axisY, stroke: '#666', 'stroke-width': 1}, g);
  
  
}

function drawBarChart(name, f, categories, lower, upper, lowerColor, upperColor, stars) {
  const g = make('g', {}, barLayer);
  
  
  const yScale = v => f.y0 + (f.y100 - f.y0) * v / 100;
  drawAxisFrame(g, f);
  barTicks.forEach(t => {
    const y = yScale(t);
    let el = make('line', {x1: f.axisX - 3, y1: y, x2: f.axisX, y2: y, stroke: '#666'}, g);
    
    
    el = make('text', {transform: `translate(${f.axisX - 5},${y}) rotate(-90)`, 'text-anchor': 'middle', 'font-size': 11.5, fill: '#666'}, g, String(t));
    
    
  });
  categories.forEach((c, i) => {
    const cx = f.slots[i];
    const yLow = yScale(lower[i]);
    const yTop = yScale(lower[i] + upper[i]);
    let el = make('rect', {x: cx - f.barW / 2, y: yLow, width: f.barW, height: f.y0 - yLow, fill: lowerColor}, g);
    
    
    el = make('rect', {x: cx - f.barW / 2, y: yTop, width: f.barW, height: yLow - yTop, fill: upperColor}, g);
    
    
    el = make('text', {x: cx, y: yTop + f.starDy, 'text-anchor': 'middle', class: 'star', 'letter-spacing': '1'}, g, stars[i]);
    
    
    el = make('text', {x: cx + (f.catDx ? f.catDx[i] : 0), y: f.catY + (f.catDy ? f.catDy[i] : 0), 'text-anchor': 'middle', class: 'cat', textLength: c.includes('months') ? 39 : 33, lengthAdjust: 'spacingAndGlyphs'}, g, c);
    
    
  });
}

drawBarChart('panel-a-chart', {axisX: 44.5, top: 40, axisY: 171.5, right: 243, y0: 171.5, y100: 45.7, slots: [78.3, 145, 211], barW: 40, catY: 182, catDx: [1, -1, 3], catDy: [0, 0, 1], starDy: 2.5}, aCategories, aIntra, aExtra, RED, NAVY, aStars);
drawBarChart('panel-b-chart', {axisX: 304.5, top: 40, axisY: 172, right: 508, y0: 172, y100: 46, slots: [355, 459.5], barW: 63, catY: 186, starDy: .5}, bCategories, bIntra, bExtra, RED, NAVY, bStars);
drawBarChart('panel-c-chart', {axisX: 559.5, top: 40, axisY: 170.5, right: 765, y0: 170.5, y100: 45.3, slots: [585, 629, 706.5, 750], barW: 26, catY: 183, starDy: 3}, cCategories, cIncrease, cDecrease, NAVY, RED, cStars);

function drawScatter(name, f, points, xTicks, xLabels, xThreshold) {
  const g = make('g', {}, scatterLayer);
  
  
  const xMax = xTicks[xTicks.length - 1];
  const xScale = v => f.x0 + (f.xEnd - f.x0) * v / xMax;
  const yScale = v => f.y0 + (f.y3 - f.y0) * v / 3;
  drawAxisFrame(g, f);
  xTicks.forEach((t, i) => {
    const x = xScale(t);
    let el = make('line', {x1: x, y1: f.axisY, x2: x, y2: f.axisY + 3, stroke: '#666'}, g);
    
    
    el = make('text', {x: x, y: f.axisY + 15, 'text-anchor': 'middle', 'font-size': 12, fill: '#333'}, g, xLabels[i]);
    
    
  });
  mdTicks.forEach((t, i) => {
    const y = yScale(t);
    let el = make('line', {x1: f.axisX - 3, y1: y, x2: f.axisX, y2: y, stroke: '#666'}, g);
    
    
    el = make('text', {transform: `translate(${f.axisX - 5},${y}) rotate(-90)`, 'text-anchor': 'middle', 'font-size': 11.5, fill: '#666'}, g, mdTickLabels[i]);
    
    
  });
  let el = make('line', {x1: xScale(xThreshold), y1: f.top, x2: xScale(xThreshold), y2: f.axisY, stroke: LINE, 'stroke-width': 2}, g);
  
  
  el = make('line', {x1: f.axisX, y1: yScale(mdThreshold), x2: f.right, y2: yScale(mdThreshold), stroke: LINE, 'stroke-width': 1.8}, g);
  
  
  points.forEach(p => {
    const c = make('circle', {cx: xScale(p[0]), cy: yScale(p[1]), r: 3, fill: '#000'}, g);
    
    
  });
}

const tscLabels = tscTicks.map(String);
drawScatter('d-pre-scatter', {axisX: 52, top: 284, axisY: 416.7, right: 244, x0: 55, xEnd: 240.7, y0: 412, y3: 288.3}, dPrePoints, tscTicks, tscLabels, tscThreshold);
drawScatter('d-2weeks-scatter', {axisX: 308.3, top: 284, axisY: 416.7, right: 500.7, x0: 311.7, xEnd: 497.3, y0: 412, y3: 292.3}, d2wPoints, tscTicks, tscLabels, tscThreshold);
drawScatter('d-6months-scatter', {axisX: 565.7, top: 280.7, axisY: 417.3, right: 758, x0: 569, xEnd: 754.3, y0: 413.3, y3: 287.7}, d6mPoints, tscTicks, tscLabels, tscThreshold);
drawScatter('e-pre-scatter', {axisX: 50.7, top: 511, axisY: 636.7, right: 244.3, x0: 54.3, xEnd: 242.3, y0: 633, y3: 515}, ePrePoints, ktransTicks, ktransTickLabels, ktransThreshold);
drawScatter('e-2weeks-scatter', {axisX: 308.3, top: 507.7, axisY: 636.7, right: 506, x0: 311.7, xEnd: 501.7, y0: 632.3, y3: 516.7}, e2wPoints, ktransTicks, ktransTickLabels, ktransThreshold);
drawScatter('e-6months-scatter', {axisX: 566.7, top: 508, axisY: 635, right: 763, x0: 570, xEnd: 760, y0: 631, y3: 510}, e6mPoints, ktransTicks, ktransTickLabels, ktransThreshold);
</script>
</body>
</html>
